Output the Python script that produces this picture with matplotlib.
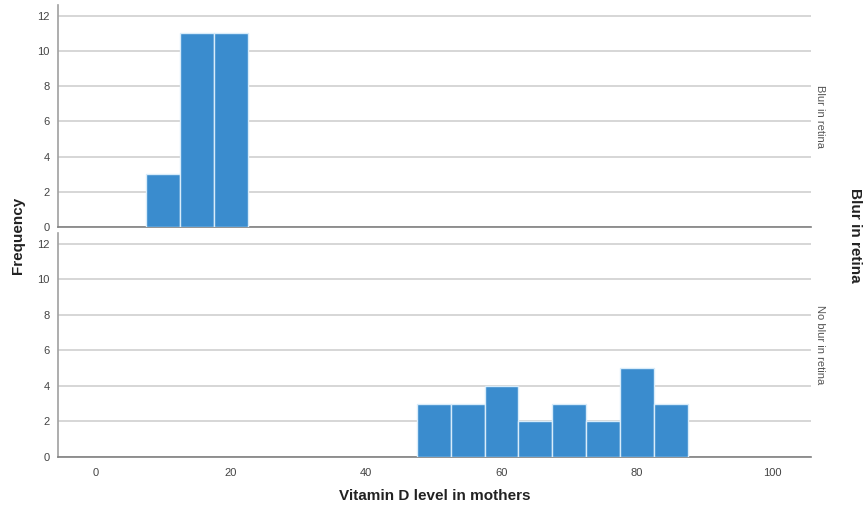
import numpy as np
import matplotlib.pyplot as plt

# bin centres (width 5) and frequencies per panel
bin_width = 5
blur_centres = [10, 15, 20]
blur_counts = [3, 11, 11]
noblur_centres = [50, 55, 60, 65, 70, 75, 80, 85]
noblur_counts = [3, 3, 4, 2, 3, 2, 5, 3]

panel_labels = ["Blur in retina", "No blur in retina"]
x_ticks = [0, 20, 40, 60, 80, 100]
y_ticks = [0, 2, 4, 6, 8, 10, 12]

plt.rcParams['font.family'] = ['Arial', 'Liberation Sans', 'DejaVu Sans']

fig = plt.figure(figsize=(8.64, 5.12), dpi=100)
ax_top = fig.add_axes([0.0671, 0.5566, 0.8716, 0.4334])
ax_bot = fig.add_axes([0.0671, 0.1074, 0.8716, 0.4376])

bar_color = "#3a8cce"
for ax, centres, counts, label in [
    (ax_top, blur_centres, blur_counts, panel_labels[0]),
    (ax_bot, noblur_centres, noblur_counts, panel_labels[1]),
]:
    ax.bar(centres, counts, width=bin_width, color=bar_color,
           edgecolor="#d8ecfa", linewidth=1.0, zorder=3)
    ax.set_xlim(-5.5, 105.7)
    ax.set_ylim(0, 12.6)
    ax.set_yticks(y_ticks)
    ax.yaxis.grid(True, color="#d0d0d0", linewidth=1.2, zorder=0)
    ax.set_axisbelow(True)
    for s in ["top", "right"]:
        ax.spines[s].set_visible(False)
    ax.spines["left"].set_color("#a0a0a0")
    ax.spines["bottom"].set_color("#808080")
    ax.spines["left"].set_linewidth(1.2)
    ax.spines["bottom"].set_linewidth(1.2)
    ax.tick_params(axis="y", length=0, labelsize=8, labelcolor="#444444", pad=6)
    ax.tick_params(axis="x", length=0, labelsize=8, labelcolor="#444444", pad=8)
    ax.text(1.005, 0.5, label, transform=ax.transAxes, rotation=-90,
            ha="left", va="center", fontsize=8, color="#555555")

ax_top.set_xticks(x_ticks)
ax_top.tick_params(axis="x", labelbottom=False)
ax_bot.set_xticks(x_ticks)

fig.text(0.021, 0.54, "Frequency", rotation=90, ha="center", va="center",
         fontsize=11, fontweight="bold", color="#222222")
fig.text(0.99, 0.54, "Blur in retina", rotation=-90, ha="center", va="center",
         fontsize=11, fontweight="bold", color="#222222")
fig.text(0.503, 0.031, "Vitamin D level in mothers", ha="center", va="center",
         fontsize=11, fontweight="bold", color="#222222")

fig.savefig("out.png", dpi=100)
